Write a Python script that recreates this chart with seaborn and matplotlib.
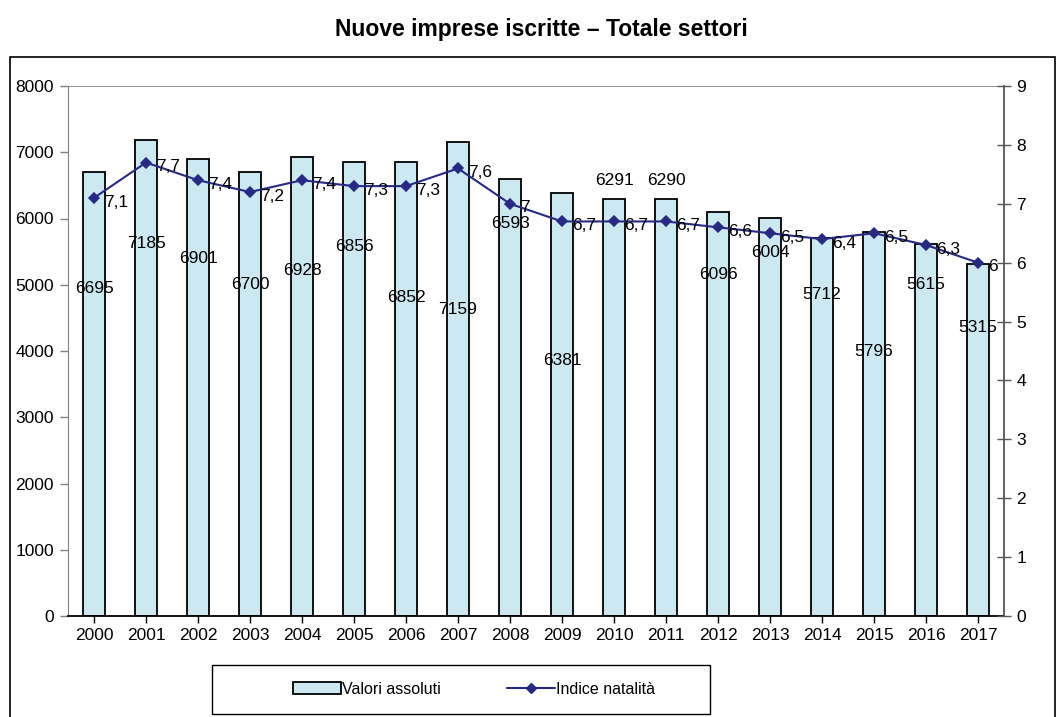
import matplotlib
matplotlib.use("Agg")
import matplotlib.pyplot as plt
import seaborn as sns
import pandas as pd
from matplotlib.patches import Rectangle, Patch
from matplotlib.lines import Line2D

# Dati
anni = [str(a) for a in range(2000, 2018)]
valori_assoluti = [6695, 7185, 6901, 6700, 6928, 6856, 6852, 7159, 6593, 6381,
                   6291, 6290, 6096, 6004, 5712, 5796, 5615, 5315]
indice_natalita = [7.1, 7.7, 7.4, 7.2, 7.4, 7.3, 7.3, 7.6, 7.0, 6.7,
                   6.7, 6.7, 6.6, 6.5, 6.4, 6.5, 6.3, 6.0]
# altezza (scala sinistra) a cui sono scritte le etichette dei valori assoluti
pos_etichette = [4940, 5630, 5400, 5010, 5220, 5570, 4810, 4630, 5930, 3850,
                 6570, 6570, 5150, 5480, 4850, 3990, 5000, 4350]

df = pd.DataFrame({"anno": anni, "valore": valori_assoluti, "indice": indice_natalita})

sns.set_style("white")
plt.rcParams["font.family"] = ["Liberation Sans", "DejaVu Sans"]
plt.rcParams["text.color"] = "black"
plt.rcParams["xtick.color"] = "black"
plt.rcParams["ytick.color"] = "black"

fig = plt.figure(figsize=(10.63, 7.17), dpi=100)
ax = fig.add_axes([68 / 1063, 1 - 616 / 717, (1004 - 68) / 1063, (616 - 86) / 717])

sns.barplot(data=df, x="anno", y="valore", color="#CCE9F1", edgecolor="black",
            linewidth=1.3, width=0.42, saturation=1, ax=ax)
ax.set_ylim(0, 8000)
ax.set_yticks(range(0, 8001, 1000))
ax.set_xlim(-0.5, len(anni) - 0.5)
ax.set_xlabel("")
ax.set_ylabel("")
ax.axhline(8000, color="#808080", lw=1.2)

for i, (v, p) in enumerate(zip(valori_assoluti, pos_etichette)):
    ax.text(i, p, str(v), ha="center", va="center", fontsize=12.5, color="black")

ax2 = ax.twinx()
sns.pointplot(data=df, x="anno", y="indice", color="#262A84", markers="D",
              markersize=5, linewidth=1.5, ax=ax2)
ax2.set_ylim(0, 9)
ax2.set_yticks(range(0, 10))
ax2.set_xlim(-0.5, len(anni) - 0.5)
ax2.set_ylabel("")
ax2.set_xlabel("")
for i, v in enumerate(indice_natalita):
    lab = f"{v:g}".replace(".", ",")
    ax2.annotate(lab, (i, v), xytext=(7, -3), textcoords="offset points",
                 ha="left", va="center", fontsize=12.5, color="black")

for a in (ax, ax2):
    for s in a.spines.values():
        s.set_visible(False)
ax.spines["left"].set_visible(True)
ax.spines["left"].set_color("#808080")
ax.spines["bottom"].set_visible(True)
ax.spines["bottom"].set_color("black")
ax.spines["bottom"].set_linewidth(1.3)
ax2.spines["right"].set_visible(True)
ax2.spines["right"].set_color("#555555")
ax2.spines["right"].set_linewidth(1.3)

ax.tick_params(axis="y", direction="out", length=6, width=1, color="#808080",
               labelcolor="black", labelsize=12.5, left=True, pad=4)
ax.tick_params(axis="x", direction="out", length=5, width=1, bottom=True,
               labelcolor="black", labelsize=12.5, pad=4)
ax2.tick_params(axis="y", direction="inout", length=10, width=1, color="#555555",
                labelcolor="black", labelsize=12.5, right=True, pad=4)

fig.suptitle("Nuove imprese iscritte – Totale settori", x=0.509, y=0.975,
             fontsize=16.5, fontweight="bold", color="black")

# cornice esterna
fig.patches.append(Rectangle((10 / 1063, -0.01), 1045 / 1063, 0.9305,
                             transform=fig.transFigure, fill=False,
                             edgecolor="black", lw=1.2))
# cornice della legenda
fig.patches.append(Rectangle((212 / 1063, 1 - 714 / 717), 498 / 1063, 49 / 717,
                             transform=fig.transFigure, fill=False,
                             edgecolor="black", lw=1.0))

handles = [Patch(facecolor="#CCE9F1", edgecolor="black", lw=1.3),
           Line2D([], [], color="#262A84", marker="D", markersize=5, lw=1.5)]
leg = fig.legend(handles, ["Valori assoluti", "Indice natalità"], ncol=2,
                 loc="center", bbox_to_anchor=(474 / 1063, 1 - 689 / 717),
                 fontsize=11.5, frameon=False, handlelength=3,
                 handletextpad=0.1, columnspacing=4.1)
for t in leg.get_texts():
    t.set_color("black")

fig.savefig("out.png", dpi=100)
